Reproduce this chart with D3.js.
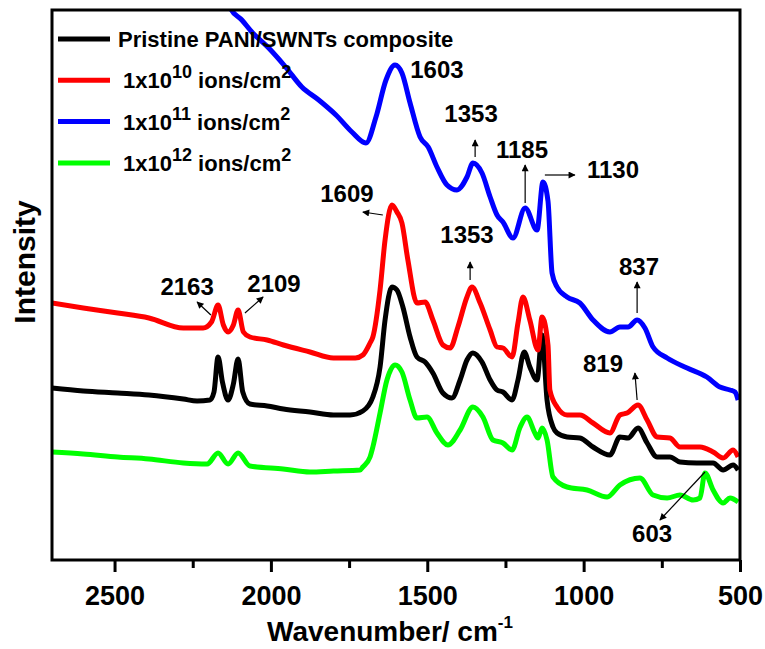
<!DOCTYPE html>
<html>
<head>
<meta charset="utf-8">
<script src="https://cdn.jsdelivr.net/npm/d3@7"></script>
<style>
  body { margin: 0; background: #fff; }
  svg { font-family: "Liberation Sans", Arial, sans-serif; font-weight: bold; }
</style>
</head>
<body>
<svg id="chart" width="765" height="649"></svg>
<script>
// wavenumber (cm-1) and intensity (a.u.)
const pristine = [
  [2700,172],[2600,169],[2490,167],[2390,165],[2280,161],[2236,159],[2195,160],[2182,168],
  [2169,203],[2155,178],[2137,160],[2120,176],[2105,201],[2090,168],[2067,156],[2012,154],
  [1960,151],[1875,148],[1800,145],[1747,145],[1706,149],[1674,163],[1651,193],[1635,240],
  [1613,273],[1597,270],[1578,253],[1555,223],[1533,203],[1507,198],[1482,187],[1450,167],
  [1421,162],[1395,180],[1373,200],[1354,207],[1325,198],[1299,180],[1277,170],[1258,168],
  [1229,160],[1210,180],[1190,208],[1172,193],[1149,180],[1133,225],[1117,160],[1098,133],
  [1085,127],[1053,123],[1012,122],[970,113],[916,105],[884,123],[858,122],[826,132],
  [797,117],[765,103],[724,103],[692,98],[638,97],[586,97],[554,90],[522,95],[506,90]
];
const dose10 = [
  [2700,257],[2600,252],[2490,247],[2390,242],[2280,232],[2217,232],[2190,238],[2169,255],
  [2152,235],[2137,228],[2120,235],[2105,250],[2088,228],[2067,223],[2012,220],[1960,215],
  [1875,208],[1800,202],[1730,202],[1706,205],[1683,217],[1674,223],[1651,270],[1635,320],
  [1613,355],[1597,348],[1581,337],[1562,300],[1533,257],[1507,258],[1482,240],[1450,215],
  [1427,212],[1402,233],[1373,263],[1357,273],[1331,257],[1299,230],[1277,213],[1258,212],
  [1229,203],[1210,237],[1194,263],[1172,240],[1146,210],[1133,243],[1114,215],[1108,170],
  [1085,153],[1053,145],[1012,145],[970,137],[916,127],[884,145],[861,147],[826,155],
  [797,140],[765,123],[724,122],[692,113],[628,113],[586,108],[554,102],[522,110],[506,103]
];
const dose11 = [
  [2200,600],[2160,580],[2130,552],[2093,540],[2061,528],[2007,512],[1953,493],[1901,473],
  [1847,460],[1792,445],[1741,428],[1696,417],[1664,443],[1632,480],[1603,495],[1581,487],
  [1555,457],[1523,423],[1497,413],[1469,393],[1437,375],[1405,370],[1373,383],[1354,397],
  [1325,387],[1299,363],[1277,345],[1258,338],[1226,322],[1187,352],[1149,330],[1130,378],
  [1114,359],[1101,287],[1085,273],[1053,263],[1012,257],[970,240],[916,228],[884,233],
  [858,233],[829,240],[804,232],[778,213],[733,202],[669,192],[606,183],[564,173],
  [532,170],[516,168],[506,160]
];
const dose12 = [
  [2700,108],[2600,106],[2490,103],[2390,101],[2280,97],[2204,96],[2169,107],[2137,96],
  [2105,107],[2067,94],[1961,91],[1875,88],[1800,89],[1715,90],[1706,93],[1683,103],
  [1674,113],[1651,147],[1629,180],[1603,195],[1581,188],[1555,160],[1533,142],[1501,143],
  [1469,127],[1434,115],[1395,130],[1354,153],[1322,143],[1290,120],[1258,117],[1229,110],
  [1203,133],[1181,143],[1156,127],[1146,122],[1133,132],[1117,120],[1098,83],[1053,73],
  [989,70],[925,63],[884,75],[820,82],[778,65],[733,62],[692,65],[650,60],[628,62],
  [612,87],[586,70],[554,57],[532,62],[506,58]
];

const seriesNames = ["Pristine PANI/SWNTs composite", "1x10|10| ions/cm|2", "1x10|11| ions/cm|2", "1x10|12| ions/cm|2"];
const seriesColors = ["#000000", "#ff0000", "#0000ff", "#00ff00"];
const seriesData = [pristine, dose10, dose11, dose12];

const majorTicks = [2500, 2000, 1500, 1000, 500];
const minorTicks = [2250, 1750, 1250, 750];

// peak labels: text, wavenumber, intensity
const peakLabels = [
  ["1603", 1469, 482], ["1353", 1360, 438], ["1185", 1197, 402], ["1130", 906, 382],
  ["1353", 1373, 317], ["1609", 1757, 358], ["2163", 2268, 265], ["2109", 1990, 268],
  ["837", 823, 285], ["819", 938, 188], ["603", 781, 18]
];
// arrows: from [w, I] to [w, I]
const peakArrows = [
  [[1347,403],[1347,420]], [[1187,357],[1187,395]], [[1124,385],[1028,385]],
  [[1363,280],[1363,298]], [[1642,345],[1706,348]], [[2192,245],[2236,258]],
  [[2083,247],[2025,263]], [[829,247],[829,278]], [[829,160],[836,187]],
  [[612,88],[756,40]]
];

const margin = { top: 10, right: 25, bottom: 89, left: 52 };
const width = 765, height = 649;
const svg = d3.select("#chart");

const x = d3.scaleLinear().domain([2700, 500]).range([margin.left, width - margin.right]);
const y = d3.scaleLinear().domain([0, 550]).range([height - margin.bottom, margin.top]);

svg.append("defs").append("clipPath").attr("id", "plotclip")
  .append("rect")
  .attr("x", margin.left).attr("y", margin.top)
  .attr("width", x.range()[1] - margin.left)
  .attr("height", y.range()[0] - margin.top);

svg.append("defs").append("marker")
  .attr("id", "head")
  .attr("viewBox", "0 0 10 10")
  .attr("refX", 9).attr("refY", 5)
  .attr("markerWidth", 9).attr("markerHeight", 7)
  .attr("markerUnits", "userSpaceOnUse")
  .attr("orient", "auto")
  .append("path").attr("d", "M0,0L10,5L0,10z").attr("fill", "#000");

const line = d3.line()
  .x(d => x(d[0]))
  .y(d => y(d[1]))
  .curve(d3.curveMonotoneX);

// drawing order: black, green, blue, red on top
const order = [0, 3, 2, 1];
const curves = svg.append("g").attr("clip-path", "url(#plotclip)");
order.forEach(i => {
  curves.append("path")
    .datum(seriesData[i].slice().reverse())
    .attr("fill", "none")
    .attr("stroke", seriesColors[i])
    .attr("stroke-width", 5)
    .attr("stroke-linejoin", "round")
    .attr("d", line);
});

// frame
svg.append("rect")
  .attr("x", margin.left).attr("y", margin.top)
  .attr("width", x.range()[1] - margin.left)
  .attr("height", y.range()[0] - margin.top)
  .attr("fill", "none").attr("stroke", "#000").attr("stroke-width", 3);

// x axis
const xAxis = svg.append("g")
  .attr("transform", `translate(0,${y.range()[0]})`)
  .call(d3.axisBottom(x).tickValues(majorTicks).tickSize(12).tickPadding(14).tickFormat(d3.format("d")));
xAxis.select(".domain").remove();
xAxis.selectAll(".tick line").attr("stroke-width", 3);
xAxis.selectAll(".tick text")
  .attr("font-size", 27).attr("font-weight", "bold")
  .attr("font-family", "Liberation Sans, Arial, sans-serif").attr("fill", "#000");

const xMinor = svg.append("g")
  .attr("transform", `translate(0,${y.range()[0]})`)
  .call(d3.axisBottom(x).tickValues(minorTicks).tickSize(8).tickFormat(""));
xMinor.select(".domain").remove();
xMinor.selectAll(".tick line").attr("stroke-width", 3);

// axis titles
const xt = svg.append("text")
  .attr("x", 390).attr("y", 641)
  .attr("text-anchor", "middle")
  .attr("font-size", 28);
xt.append("tspan").text("Wavenumber/ cm");
xt.append("tspan").attr("dy", -13).attr("font-size", 17).text("-1");

svg.append("text")
  .attr("transform", "translate(35,262) rotate(-90)")
  .attr("text-anchor", "middle")
  .attr("font-size", 30)
  .text("Intensity");

// legend
const legend = svg.append("g");
seriesNames.forEach((name, i) => {
  const ly = 39 + i * 41.3;
  legend.append("line")
    .attr("x1", 58).attr("x2", 110)
    .attr("y1", ly).attr("y2", ly)
    .attr("stroke", seriesColors[i]).attr("stroke-width", 5);
  const t = legend.append("text")
    .attr("x", i === 0 ? 118 : 123).attr("y", ly + 8)
    .attr("font-size", 22);
  const parts = name.split("|");
  parts.forEach((p, k) => {
    if (k % 2 === 1) {
      t.append("tspan").attr("dy", -10).attr("font-size", 18).text(p);
    } else {
      t.append("tspan").attr("dy", k === 0 ? 0 : 10).text((k > 0 ? " " : "") + p.replace(/^ /, ""));
    }
  });
});

// peak annotations
svg.append("g").selectAll("text")
  .data(peakLabels)
  .join("text")
  .attr("x", d => x(d[1]))
  .attr("y", d => y(d[2]))
  .attr("text-anchor", "middle")
  .attr("font-size", 24)
  .text(d => d[0]);

svg.append("g").selectAll("line")
  .data(peakArrows)
  .join("line")
  .attr("x1", d => x(d[0][0])).attr("y1", d => y(d[0][1]))
  .attr("x2", d => x(d[1][0])).attr("y2", d => y(d[1][1]))
  .attr("stroke", "#000").attr("stroke-width", 1.2)
  .attr("marker-end", "url(#head)");
</script>
</body>
</html>
